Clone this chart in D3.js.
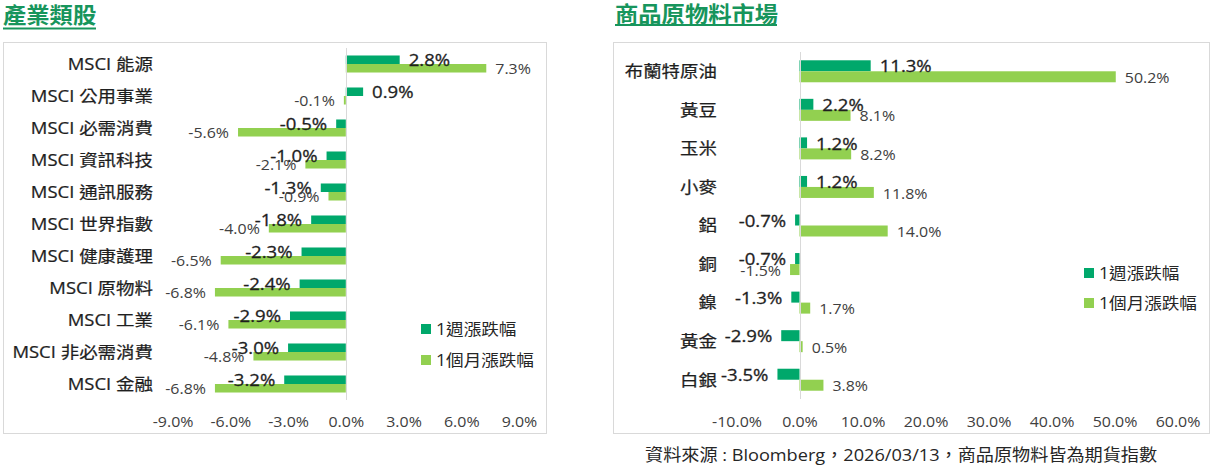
<!DOCTYPE html>
<html>
<head>
<meta charset="utf-8">
<script src="https://cdn.jsdelivr.net/npm/d3@7"></script>
<style>
  body { margin: 0; background: #fff; }
  svg text { font-family: "Open Sans", "Noto Sans CJK TC", sans-serif; }
</style>
</head>
<body>
<div id="chart"></div>
<script>
// Series names (legend)
const seriesNames = ["1週漲跌幅", "1個月漲跌幅"];

// Left panel: sector indices
const sectorCats = ["MSCI 能源", "MSCI 公用事業", "MSCI 必需消費", "MSCI 資訊科技", "MSCI 通訊服務",
    "MSCI 世界指數", "MSCI 健康護理", "MSCI 原物料", "MSCI 工業", "MSCI 非必需消費", "MSCI 金融"];
const sectorWeek = [2.8, 0.9, -0.5, -1.0, -1.3, -1.8, -2.3, -2.4, -2.9, -3.0, -3.2];
const sectorMonth = [7.3, -0.1, -5.6, -2.1, -0.9, -4.0, -6.5, -6.8, -6.1, -4.8, -6.8];
const sectorTicks = [-9, -6, -3, 0, 3, 6, 9];

// Right panel: commodities
const commodityCats = ["布蘭特原油", "黃豆", "玉米", "小麥", "鋁", "銅", "鎳", "黃金", "白銀"];
const commodityWeek = [11.3, 2.2, 1.2, 1.2, -0.7, -0.7, -1.3, -2.9, -3.5];
const commodityMonth = [50.2, 8.1, 8.2, 11.8, 14.0, -1.5, 1.7, 0.5, 3.8];
const commodityTicks = [-10, 0, 10, 20, 30, 40, 50, 60];

const colors = ["#00a86b", "#92d050"];
const green = "#17955c";

const svg = d3.select("#chart").append("svg")
    .attr("width", 1213)
    .attr("height", 470);

// the source picture is a little wide, so text gets stretched sideways
const at = (x, y, sx) => `translate(${x},${y}) scale(${sx},1)`;

// Function to draw one panel
function drawPanel(cfg) {
    const g = svg.append("g");

    // Title with underline
    g.append("text")
        .attr("transform", at(cfg.titleX, cfg.titleY, 1.06))
        .attr("font-size", 22)
        .attr("font-weight", "bold")
        .attr("fill", green)
        .text(cfg.title);
    g.append("line")
        .attr("x1", cfg.titleX).attr("x2", cfg.titleX + cfg.titleW)
        .attr("y1", cfg.lineY).attr("y2", cfg.lineY)
        .attr("stroke", green).attr("stroke-width", 2);

    // Frame
    g.append("rect")
        .attr("x", cfg.box[0] + 0.5).attr("y", cfg.box[1] + 0.5)
        .attr("width", cfg.box[2] - cfg.box[0]).attr("height", cfg.box[3] - cfg.box[1])
        .attr("fill", "none").attr("stroke", "#d9d9d9");

    const x = d3.scaleLinear().domain(d3.extent(cfg.ticks)).range(cfg.xRange);
    const y = d3.scaleBand().domain(cfg.cats).range(cfg.yRange);
    const ys = d3.scaleBand().domain(seriesNames).range([0, y.bandwidth()]).paddingOuter(cfg.pad);

    const rows = cfg.cats.map((c, i) => ({ cat: c, vals: [cfg.week[i], cfg.month[i]] }));

    // Bars
    const row = g.selectAll(".row").data(rows).enter().append("g")
        .attr("transform", d => `translate(0,${y(d.cat)})`);

    row.selectAll("rect")
        .data(d => d.vals.map((v, k) => ({ v, k })))
        .enter().append("rect")
        .attr("x", d => x(Math.min(0, d.v)))
        .attr("y", d => ys(seriesNames[d.k]))
        .attr("width", d => Math.abs(x(d.v) - x(0)))
        .attr("height", ys.bandwidth())
        .attr("fill", d => colors[d.k]);

    // Zero line
    g.append("line")
        .attr("x1", Math.round(x(0)) + 0.5).attr("x2", Math.round(x(0)) + 0.5)
        .attr("y1", cfg.yRange[0]).attr("y2", cfg.yRange[1])
        .attr("stroke", "#d9d9d9");

    // Data labels
    row.selectAll("text.val")
        .data(d => d.vals.map((v, k) => ({ v, k })))
        .enter().append("text")
        .attr("class", "val")
        .attr("transform", d => at(d.v >= 0 ? x(d.v) + 9 : x(d.v) - 9,
            ys(seriesNames[d.k]) + ys.bandwidth() / 2 + 1, d.k === 0 ? 1.16 : 1.1))
        .attr("dy", "0.35em")
        .attr("text-anchor", d => d.v >= 0 ? "start" : "end")
        .attr("font-size", d => d.k === 0 ? 16 : 14.5)
        .attr("fill", d => d.k === 0 ? "#1f1f1f" : "#404040")
        .attr("stroke", d => d.k === 0 ? "#1f1f1f" : "none")
        .attr("stroke-width", 0.3)
        .text(d => d.v.toFixed(1) + "%");

    // Category labels
    g.selectAll(".cat").data(cfg.cats).enter().append("text")
        .attr("transform", d => at(cfg.catX, y(d) + y.bandwidth() / 2, 1.12))
        .attr("dy", "0.35em")
        .attr("text-anchor", "end")
        .attr("font-size", 16.5)
        .attr("fill", "#1f1f1f")
        .attr("stroke", "#1f1f1f")
        .attr("stroke-width", 0.25)
        .text(d => d);

    // X axis tick labels
    const axis = g.append("g")
        .attr("transform", `translate(0,${cfg.axisY})`)
        .call(d3.axisBottom(x).tickValues(cfg.ticks).tickSize(0).tickFormat(d => d.toFixed(1) + "%"));
    axis.select(".domain").remove();
    axis.selectAll("text")
        .attr("font-size", 14.5)
        .attr("fill", "#404040")
        .attr("y", 0)
        .attr("dy", "0.35em")
        .attr("transform", "scale(1.1,1)");

    // Legend
    const leg = g.selectAll(".leg").data(seriesNames).enter().append("g")
        .attr("transform", (d, i) => `translate(${cfg.legX},${cfg.legY[i]})`);
    leg.append("rect")
        .attr("x", 0).attr("y", -5).attr("width", 10).attr("height", 10)
        .attr("fill", (d, i) => colors[i]);
    leg.append("text")
        .attr("transform", at(15, 0, 1.1))
        .attr("dy", "0.35em")
        .attr("font-size", 16)
        .attr("fill", "#262626")
        .text(d => d);
}

drawPanel({
    title: "產業類股", titleX: 3, titleY: 23, titleW: 93, lineY: 28.5,
    box: [3, 42, 546, 433],
    cats: sectorCats, week: sectorWeek, month: sectorMonth, ticks: sectorTicks,
    xRange: [172.6, 519], yRange: [48, 400], pad: 0.88,
    catX: 153, axisY: 422, legX: 421, legY: [329, 360]
});

drawPanel({
    title: "商品原物料市場", titleX: 615, titleY: 21.5, titleW: 162, lineY: 25,
    box: [613, 42, 1209, 433],
    cats: commodityCats, week: commodityWeek, month: commodityMonth, ticks: commodityTicks,
    xRange: [736.5, 1177.5], yRange: [52, 399], pad: 0.753,
    catX: 717, axisY: 422, legX: 1084, legY: [273, 303]
});

// Source note
svg.append("text")
    .attr("transform", at(645, 455, 1.1))
    .attr("dy", "0.35em")
    .attr("font-size", 16.5)
    .attr("fill", "#262626")
    .text("資料來源 : Bloomberg，2026/03/13，商品原物料皆為期貨指數");
</script>
</body>
</html>
